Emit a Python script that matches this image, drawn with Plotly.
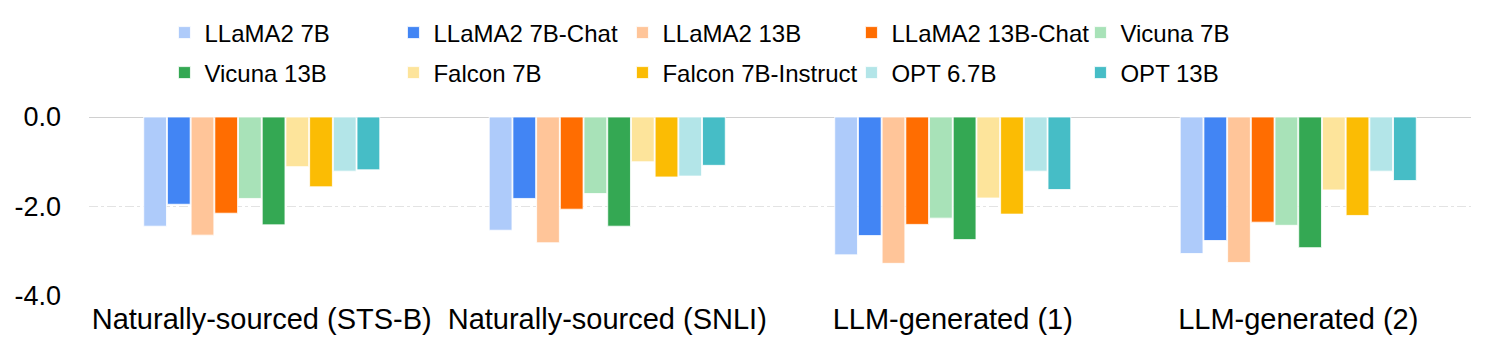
import plotly.graph_objects as go

categories = ["Naturally-sourced (STS-B)", "Naturally-sourced (SNLI)",
              "LLM-generated (1)", "LLM-generated (2)"]

models = ["LLaMA2 7B", "LLaMA2 7B-Chat", "LLaMA2 13B", "LLaMA2 13B-Chat", "Vicuna 7B",
          "Vicuna 13B", "Falcon 7B", "Falcon 7B-Instruct", "OPT 6.7B", "OPT 13B"]

llama2_7b = [-2.44, -2.53, -3.08, -3.05]
llama2_7b_chat = [-1.95, -1.82, -2.65, -2.76]
llama2_13b = [-2.64, -2.81, -3.27, -3.25]
llama2_13b_chat = [-2.15, -2.06, -2.40, -2.35]
vicuna_7b = [-1.82, -1.71, -2.26, -2.42]
vicuna_13b = [-2.41, -2.44, -2.74, -2.92]
falcon_7b = [-1.11, -1.00, -1.81, -1.63]
falcon_7b_instruct = [-1.56, -1.34, -2.17, -2.20]
opt_6_7b = [-1.21, -1.32, -1.21, -1.21]
opt_13b = [-1.18, -1.08, -1.62, -1.42]

series = [llama2_7b, llama2_7b_chat, llama2_13b, llama2_13b_chat, vicuna_7b,
          vicuna_13b, falcon_7b, falcon_7b_instruct, opt_6_7b, opt_13b]

colors = ["#aecbfa", "#4285f4", "#ffc599", "#ff6d01", "#a8e2b8",
          "#34a853", "#fde49b", "#fbbc04", "#b3e5e8", "#46bdc6"]

y_ticks = [0, -2, -4]
y_ticklabels = ["0.0", "-2.0", "-4.0"]

fig = go.Figure()
for i, (name, vals) in enumerate(zip(models, series)):
    # first five models in the top legend row, the rest in the second
    fig.add_trace(go.Bar(x=categories, y=vals, name=name,
                         marker=dict(color=colors[i], line=dict(color="white", width=0.8)),
                         legend="legend" if i < 5 else "legend2"))

legend_style = dict(orientation="h", xref="container", yref="container",
                    xanchor="left", yanchor="middle", x=0.110,
                    entrywidth=184, entrywidthmode="pixels",
                    font=dict(size=24, color="black"), bgcolor="rgba(0,0,0,0)",
                    traceorder="normal")

fig.update_layout(
    width=1495, height=353,
    margin=dict(l=89, r=24, t=117, b=57, autoexpand=False),
    barmode="group", bargap=0.314, bargroupgap=0.04,
    plot_bgcolor="white", paper_bgcolor="white",
    font=dict(family="Liberation Sans, Arial, sans-serif", color="black"),
    legend=dict(legend_style, y=1 - 33 / 353),
    legend2=dict(legend_style, y=1 - 73 / 353),
)

fig.update_yaxes(range=[-4, 0], tickvals=y_ticks, ticktext=y_ticklabels, automargin=False,
                 showgrid=True, gridcolor="#e3e3e3", griddash="dashdot", gridwidth=1,
                 zeroline=True, zerolinecolor="#d0d0d0", zerolinewidth=1,
                 showline=False, ticks="", ticklabelstandoff=27,
                 tickfont=dict(size=27, color="black"))
fig.update_xaxes(showgrid=False, showline=False, ticks="", automargin=False,
                 ticklabelstandoff=3, tickfont=dict(size=29, color="black"))

# page body has an 8px default margin; drop it so the figure sits at 0,0
fig.write_html("out.html", config={"displayModeBar": False},
               post_script="document.body.style.margin='0';")
